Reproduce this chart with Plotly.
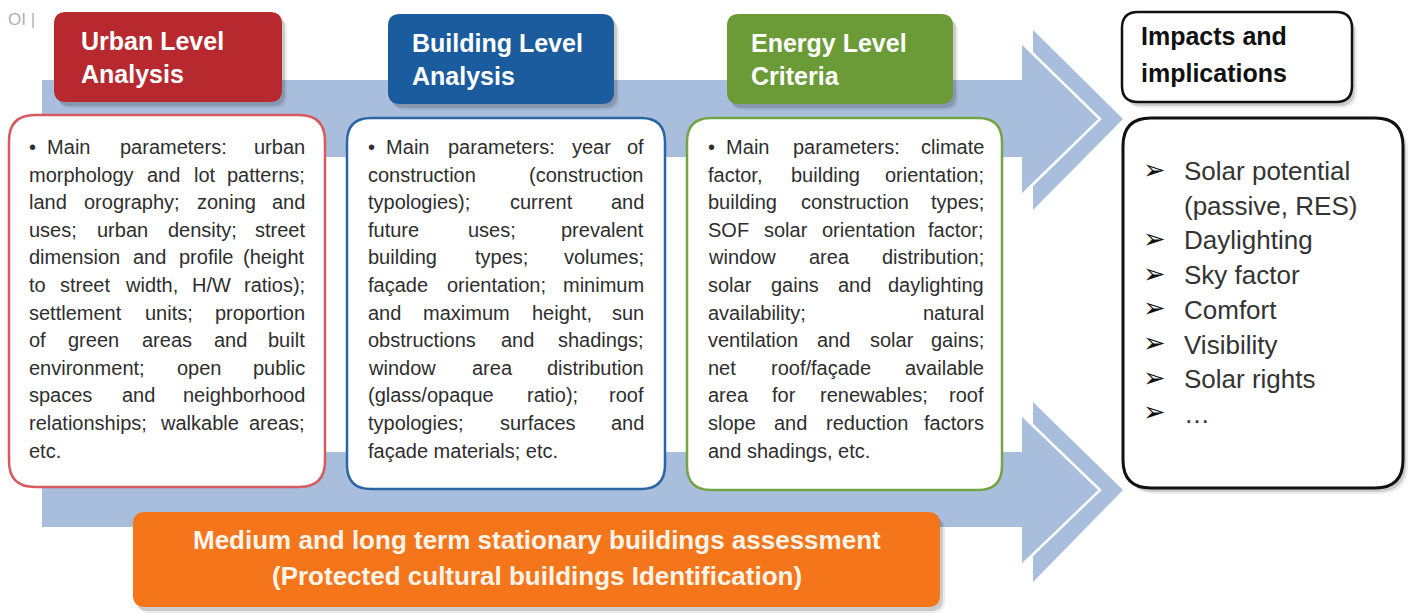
import plotly.graph_objects as go

# ---------------- data (texts) ----------------
corner_mark = "OI |"

header_titles = [
    ["Urban Level", "Analysis"],
    ["Building Level", "Analysis"],
    ["Energy Level", "Criteria"],
]
impacts_title = ["Impacts and", "implications"]

urban_lines = [
    "•\u00a0\u00a0Main parameters: urban",
    "morphology and lot patterns;",
    "land orography; zoning and",
    "uses; urban density; street",
    "dimension and profile (height",
    "to street width, H/W ratios);",
    "settlement units; proportion",
    "of green areas and built",
    "environment; open public",
    "spaces and neighborhood",
    "relationships; walkable areas;",
    "etc.",
]
building_lines = [
    "•\u00a0\u00a0Main parameters: year of",
    "construction (construction",
    "typologies); current and",
    "future uses; prevalent",
    "building types; volumes;",
    "façade orientation; minimum",
    "and maximum height, sun",
    "obstructions and shadings;",
    "window area distribution",
    "(glass/opaque ratio); roof",
    "typologies; surfaces and",
    "façade materials; etc.",
]
energy_lines = [
    "•\u00a0\u00a0Main parameters: climate",
    "factor, building orientation;",
    "building construction types;",
    "SOF solar orientation factor;",
    "window area distribution;",
    "solar gains and daylighting",
    "availability; natural",
    "ventilation and solar gains;",
    "net roof/façade available",
    "area for renewables; roof",
    "slope and reduction factors",
    "and shadings, etc.",
]
impacts_items = [
    ("➢", "Solar potential"),
    ("", "(passive, RES)"),
    ("➢", "Daylighting"),
    ("➢", "Sky factor"),
    ("➢", "Comfort"),
    ("➢", "Visibility"),
    ("➢", "Solar rights"),
    ("➢", "…"),
]
bottom_lines = [
    "Medium and long term stationary buildings assessment",
    "(Protected cultural buildings Identification)",
]

# ---------------- styles ----------------
FONT = "Liberation Sans, Arial, sans-serif"
ARROW = "#a9bedc"
RED, BLUE, GREEN, ORANGE = "#b8292f", "#1b5c9e", "#6b9b37", "#f5761a"
RED_B, BLUE_B, GREEN_B = "#d65a5f", "#2a66a3", "#74a444"
TXT = "#2e2e2e"

W = {' ': 278, '\u00a0': 278, '(': 333, ')': 333, ',': 278, '-': 333, '.': 278, '/': 278,
     ':': 278, ';': 278, '•': 350, 'ç': 500,
     'A': 667, 'B': 667, 'C': 722, 'D': 722, 'E': 667, 'F': 611, 'G': 778, 'H': 722, 'I': 278,
     'J': 500, 'K': 667, 'L': 556, 'M': 833, 'N': 722, 'O': 778, 'P': 667, 'Q': 778, 'R': 722,
     'S': 667, 'T': 611, 'U': 722, 'V': 667, 'W': 944, 'X': 667, 'Y': 667, 'Z': 611,
     'a': 556, 'b': 556, 'c': 500, 'd': 556, 'e': 556, 'f': 278, 'g': 556, 'h': 556, 'i': 222,
     'j': 222, 'k': 500, 'l': 222, 'm': 833, 'n': 556, 'o': 556, 'p': 556, 'q': 556, 'r': 333,
     's': 500, 't': 278, 'u': 556, 'v': 500, 'w': 722, 'x': 500, 'y': 500, 'z': 500}


def tw(s, size):
    return sum(W.get(c, 556) for c in s) / 1000.0 * size


def rrect(x0, y0, x1, y1, r):
    return (f"M{x0+r},{y0} L{x1-r},{y0} Q{x1},{y0} {x1},{y0+r} L{x1},{y1-r} "
            f"Q{x1},{y1} {x1-r},{y1} L{x0+r},{y1} Q{x0},{y1} {x0},{y1-r} "
            f"L{x0},{y0+r} Q{x0},{y0} {x0+r},{y0} Z")


def poly(pts):
    return "M" + " L".join(f"{x},{y}" for x, y in pts) + " Z"


shapes = []
annots = []


def add_shape(path, fill=None, line_color=None, line_width=0):
    shapes.append(dict(type="path", path=path, xref="x", yref="y",
                       fillcolor=fill if fill else "rgba(0,0,0,0)",
                       line=dict(color=line_color if line_color else "rgba(0,0,0,0)",
                                 width=line_width)))


def shadowed_box(x0, y0, x1, y1, r, fill, line_color=None, line_width=0):
    add_shape(rrect(x0 + 5, y0 + 6, x1 + 5, y1 + 6, r), fill="rgba(0,0,0,0.07)")
    add_shape(rrect(x0 + 3, y0 + 4, x1 + 3, y1 + 4, r), fill="rgba(0,0,0,0.14)")
    add_shape(rrect(x0, y0, x1, y1, r), fill=fill, line_color=line_color, line_width=line_width)


def text(x, y, s, size, color=TXT, anchor="left", bold=False, family=FONT):
    annots.append(dict(x=x, y=y, xref="x", yref="y", text=(f"<b>{s}</b>" if bold else s),
                       showarrow=False, xanchor=anchor, yanchor="middle", borderpad=0,
                       font=dict(family=family, size=size, color=color)))


def justified(lines, left, right, y0, pitch, size):
    for i, line in enumerate(lines):
        y = y0 + i * pitch
        words = line.split(" ")
        if i == len(lines) - 1 or len(words) == 1:
            text(left, y, line, size)
            continue
        widths = [tw(w, size) for w in words]
        gap = (right - left - sum(widths)) / (len(words) - 1)
        x = left
        for j, w in enumerate(words):
            if j == len(words) - 1:
                text(right, y, w, size, anchor="right")
            else:
                text(x, y, w, size)
            x += widths[j] + gap


# ---------------- big arrows ----------------
for (sy0, sy1, hy0, hy1, by0, by1) in [(80, 157, 43, 195, 30, 210),
                                       (452, 527, 415, 565, 402, 582)]:
    cy = (hy0 + hy1) / 2
    add_shape(poly([(1033, by0), (1123, cy), (1033, by1)]), fill=ARROW)
    add_shape(poly([(42, sy0), (1022, sy0), (1022, hy0), (1100, cy), (1022, hy1),
                    (1022, sy1), (42, sy1)]), fill=ARROW)
    shapes.append(dict(type="path", xref="x", yref="y",
                       path=f"M1022,{hy0} L1100,{cy} L1022,{hy1}",
                       line=dict(color="white", width=2.5)))

# ---------------- header boxes ----------------
header_geo = [(54, 12, 282, 102, RED, 26), (388, 14, 614, 104, BLUE, 23),
              (727, 14, 953, 104, GREEN, 23)]
for (x0, y0, x1, y1, c, pad), title in zip(header_geo, header_titles):
    shadowed_box(x0, y0, x1, y1, 12, c)
    text(x0 + pad, y0 + 29, title[0], 25, color="white", bold=True)
    text(x0 + pad, y0 + 62, title[1], 25, color="white", bold=True)

shadowed_box(1122, 12, 1352, 102, 16, "white", "#111111", 2.5)
text(1140, 36, impacts_title[0], 25, color="#111111", bold=True)
text(1140, 73, impacts_title[1], 25, color="#111111", bold=True)

# ---------------- content boxes ----------------
add_shape(rrect(9, 115, 325, 487, 26), fill="white", line_color=RED_B, line_width=2.5)
add_shape(rrect(347, 118, 665, 489, 24), fill="white", line_color=BLUE_B, line_width=2.5)
add_shape(rrect(687, 118, 1002, 490, 24), fill="white", line_color=GREEN_B, line_width=2.5)
shadowed_box(1123, 118, 1403, 488, 28, "white", "#111111", 3)

justified(urban_lines, 28, 306, 147, 27.6, 20)
justified(building_lines, 367, 645, 147, 27.6, 20)
justified(energy_lines, 707, 985, 147, 27.6, 20)

for i, (b, s) in enumerate(impacts_items):
    y = 171 + i * 34.7
    if b:
        text(1154, y - 2, b, 27, color="#111111", anchor="center", bold=True,
             family="DejaVu Sans")
    text(1183, y, s, 26, color="#333333")

# ---------------- bottom orange box ----------------
shadowed_box(133, 512, 940, 607, 12, ORANGE)
text(537, 540, bottom_lines[0], 26, color="#fff4ea", anchor="center", bold=True)
text(537, 576, bottom_lines[1], 26, color="#fff4ea", anchor="center", bold=True)

text(7, 19, corner_mark, 17, color="#b0b0b0")

fig = go.Figure()
fig.update_layout(
    width=1412, height=613, autosize=False,
    margin=dict(l=0, r=0, t=0, b=0),
    paper_bgcolor="white", plot_bgcolor="white",
    xaxis=dict(range=[0, 1412], visible=False, fixedrange=True),
    yaxis=dict(range=[613, 0], visible=False, fixedrange=True),
    shapes=shapes, annotations=annots, showlegend=False,
)
fig.write_html("out.html", config={"displayModeBar": False},
               post_script="document.body.style.margin='0px';document.body.style.overflow='hidden';")
